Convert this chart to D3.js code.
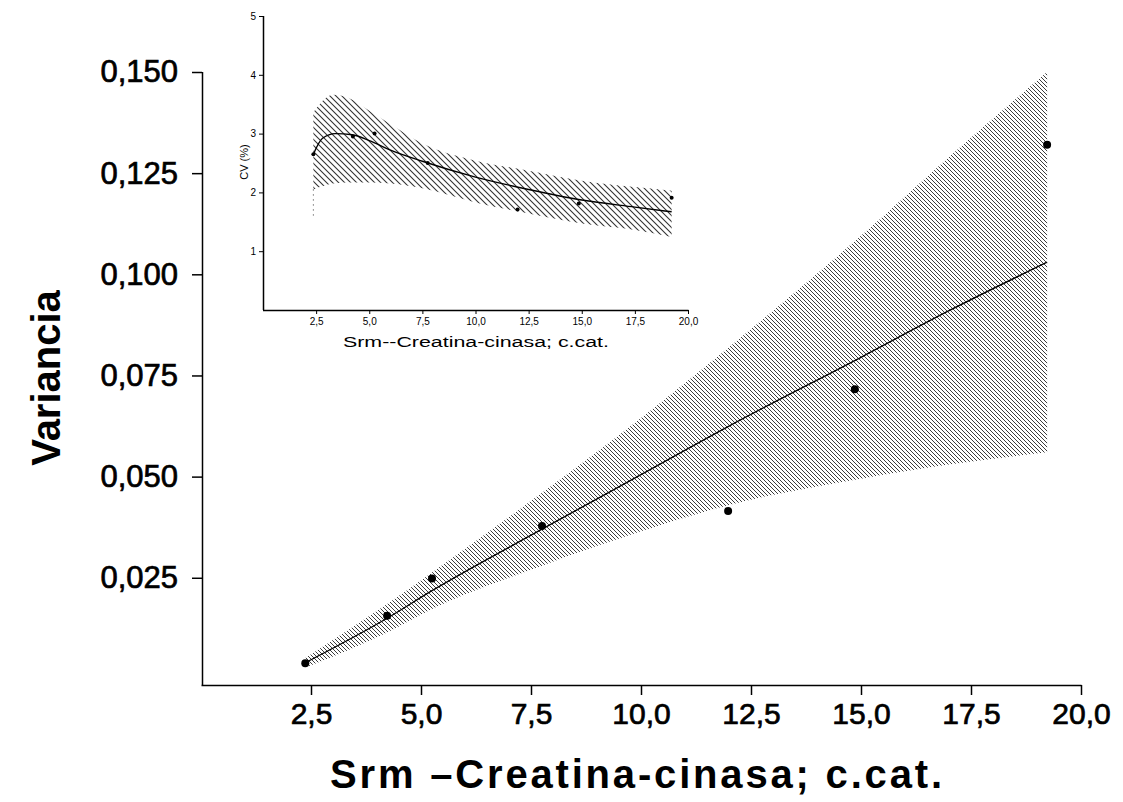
<!DOCTYPE html>
<html>
<head>
<meta charset="utf-8">
<script src="https://cdn.jsdelivr.net/npm/d3@7"></script>
<style>
  body { margin: 0; background: #fff; }
  svg { display: block; font-family: "Liberation Sans", Arial, sans-serif; }
  .axis path, .axis line { stroke: #000; }
</style>
</head>
<body>
<div id="chart"></div>
<script>
// measured points: concentration vs variance / CV
const conc = [2.37, 4.23, 5.25, 7.75, 11.98, 14.86, 19.23]
const variance = [0.0039, 0.0156, 0.0248, 0.0378, 0.0415, 0.0716, 0.132]
const cv = [2.65, 2.95, 3.0, 2.5, 1.71, 1.81, 1.91]

// main fit and confidence band
const fitX = [2.37, 4.23, 5.25, 7.75, 10, 12, 15, 17, 19.23]
const fitVar = [0.004, 0.015, 0.0218, 0.037, 0.0505, 0.0625, 0.0795, 0.091, 0.103]
const upperVar = [0.0052, 0.0185, 0.0263, 0.046, 0.0645, 0.082, 0.1095, 0.129, 0.15]
const lowerVar = [0.0028, 0.0115, 0.0173, 0.028, 0.0365, 0.043, 0.0495, 0.053, 0.056]

// inset fit and band
const bandX = [2.37, 3.3, 4, 5, 6, 7.5, 10, 12.5, 15, 17.5, 19.23]
const upperCv = [3.36, 3.66, 3.61, 3.39, 3.16, 2.83, 2.54, 2.37, 2.2, 2.09, 2.03]
const lowerCv = [2.05, 2.15, 2.17, 2.17, 2.15, 2.07, 1.83, 1.64, 1.47, 1.36, 1.24]
const fitCvX = [2.37, 2.8, 3.4, 4.2, 5, 6, 7.5, 10, 12.5, 15, 17.5, 19.23]
const fitCv = [2.65, 2.92, 3.0, 2.98, 2.88, 2.72, 2.53, 2.26, 2.05, 1.87, 1.75, 1.67]

const xTicks = [2.5, 5, 7.5, 10, 12.5, 15, 17.5, 20]
const yTicks = [0.025, 0.05, 0.075, 0.1, 0.125, 0.15]
const cvTicks = [1, 2, 3, 4, 5]
const comma = d => d3.format(".1f")(d).replace(".", ",")
const comma3 = d => d3.format(".3f")(d).replace(".", ",")

const width = 1123
const height = 802

const svg = d3
  .select("#chart")
  .append("svg")
  .attr("width", width)
  .attr("height", height)

const defs = svg.append("defs")
// diagonal "\" hatching
const hatch = (id, s, color, w) => {
  const p = defs
    .append("pattern")
    .attr("id", id)
    .attr("patternUnits", "userSpaceOnUse")
    .attr("width", s)
    .attr("height", s)
  p.append("path")
    .attr("d", `M-1,-1L${s + 1},${s + 1}M-1,${s - 1}L1,${s + 1}M${s - 1},-1L${s + 1},1`)
    .attr("stroke", color)
    .attr("stroke-width", w)
}
hatch("hMain", 4, "#3c3c3c", 1)
hatch("hInset", 6, "#333", 1.1)

// ---------- main chart ----------
const xScale = d3.scaleLinear().domain([0, 20]).range([201, 1081])
const yScale = d3.scaleLinear().domain([-0.0015, 0.15]).range([685, 72])

const area = d3
  .area()
  .x((d, i) => xScale(fitX[i]))
  .y0((d, i) => yScale(lowerVar[i]))
  .y1(d => yScale(d))
  .curve(d3.curveMonotoneX)

svg
  .append("path")
  .datum(upperVar)
  .attr("d", area)
  .attr("fill", "url(#hMain)")

svg
  .append("path")
  .datum(fitVar)
  .attr("d", d3.line().x((d, i) => xScale(fitX[i])).y(d => yScale(d)).curve(d3.curveMonotoneX))
  .attr("fill", "none")
  .attr("stroke", "#000")
  .attr("stroke-width", 1.4)

svg
  .append("g")
  .selectAll("circle")
  .data(variance)
  .enter()
  .append("circle")
  .attr("cx", (d, i) => xScale(conc[i]))
  .attr("cy", d => yScale(d))
  .attr("r", 4)
  .attr("fill", "#000")

const xAxis = svg
  .append("g")
  .attr("class", "axis")
  .attr("transform", "translate(0,685)")
  .call(d3.axisBottom(xScale).tickValues(xTicks).tickFormat(comma).tickSize(10).tickSizeOuter(0).tickPadding(8))
xAxis.select(".domain").attr("d", "M201.5,0.5H1081.5").attr("stroke-width", 1.5)
xAxis.selectAll("line").attr("stroke-width", 1.5)
xAxis.selectAll("text").attr("font-size", 30).attr("fill", "#000").attr("stroke", "#000").attr("stroke-width", 0.7)

const yAxis = svg
  .append("g")
  .attr("class", "axis")
  .attr("transform", "translate(202,0)")
  .call(d3.axisLeft(yScale).tickValues(yTicks).tickFormat(comma3).tickSize(10).tickSizeOuter(0).tickPadding(14))
yAxis.select(".domain").attr("d", "M0.5,72H0.5V685").attr("stroke-width", 1.5)
yAxis.selectAll("line").attr("stroke-width", 1.5)
yAxis.selectAll("text").attr("font-size", 31).attr("fill", "#000").attr("stroke", "#000").attr("stroke-width", 0.7)

svg
  .append("text")
  .attr("transform", "translate(60,378) rotate(-90)")
  .attr("text-anchor", "middle")
  .attr("font-size", 40)
  .attr("font-weight", "bold")
  .text("Variancia")

svg
  .append("text")
  .attr("x", 636)
  .attr("y", 788)
  .attr("text-anchor", "middle")
  .attr("font-size", 40)
  .attr("font-weight", "bold")
  .attr("textLength", 612)
  .text("Srm –Creatina-cinasa; c.cat.")

// ---------- inset ----------
const ix = d3.scaleLinear().domain([0, 20]).range([263, 688])
const iy = d3.scaleLinear().domain([0, 5]).range([310, 16])

svg
  .append("path")
  .datum(upperCv)
  .attr(
    "d",
    d3
      .area()
      .x((d, i) => ix(bandX[i]))
      .y0((d, i) => iy(lowerCv[i]))
      .y1(d => iy(d))
      .curve(d3.curveMonotoneX)
  )
  .attr("fill", "url(#hInset)")

svg
  .append("line")
  .attr("x1", ix(bandX[0]))
  .attr("x2", ix(bandX[0]))
  .attr("y1", iy(lowerCv[0]))
  .attr("y2", iy(1.6))
  .attr("stroke", "#333")
  .attr("stroke-dasharray", "1,4")

svg
  .append("path")
  .datum(fitCv)
  .attr("d", d3.line().x((d, i) => ix(fitCvX[i])).y(d => iy(d)).curve(d3.curveMonotoneX))
  .attr("fill", "none")
  .attr("stroke", "#000")
  .attr("stroke-width", 1.4)

svg
  .append("g")
  .selectAll("circle")
  .data(cv)
  .enter()
  .append("circle")
  .attr("cx", (d, i) => ix(conc[i]))
  .attr("cy", d => iy(d))
  .attr("r", 2)
  .attr("fill", "#000")

const ixAxis = svg
  .append("g")
  .attr("class", "axis")
  .attr("transform", "translate(0,310)")
  .call(d3.axisBottom(ix).tickValues(xTicks).tickFormat(comma).tickSize(4).tickSizeOuter(0).tickPadding(4))
ixAxis.select(".domain").attr("d", "M263,0.5H688.5").attr("stroke-width", 1.5)
ixAxis.selectAll("text").attr("font-size", 10).attr("fill", "#000")

const iyAxis = svg
  .append("g")
  .attr("class", "axis")
  .attr("transform", "translate(263,0)")
  .call(d3.axisLeft(iy).tickValues(cvTicks).tickFormat(d3.format("d")).tickSize(4).tickSizeOuter(0).tickPadding(3))
iyAxis.select(".domain").attr("d", "M0.5,16H0.5V310").attr("stroke-width", 1.5)
iyAxis.selectAll("text").attr("font-size", 10).attr("fill", "#000")

svg
  .append("text")
  .attr("transform", "translate(248,162) rotate(-90)")
  .attr("text-anchor", "middle")
  .attr("font-size", 11)
  .text("CV (%)")

svg
  .append("text")
  .attr("x", 476)
  .attr("y", 347)
  .attr("text-anchor", "middle")
  .attr("font-size", 14)
  .attr("textLength", 266)
  .attr("lengthAdjust", "spacingAndGlyphs")
  .text("Srm--Creatina-cinasa; c.cat.")
</script>
</body>
</html>
